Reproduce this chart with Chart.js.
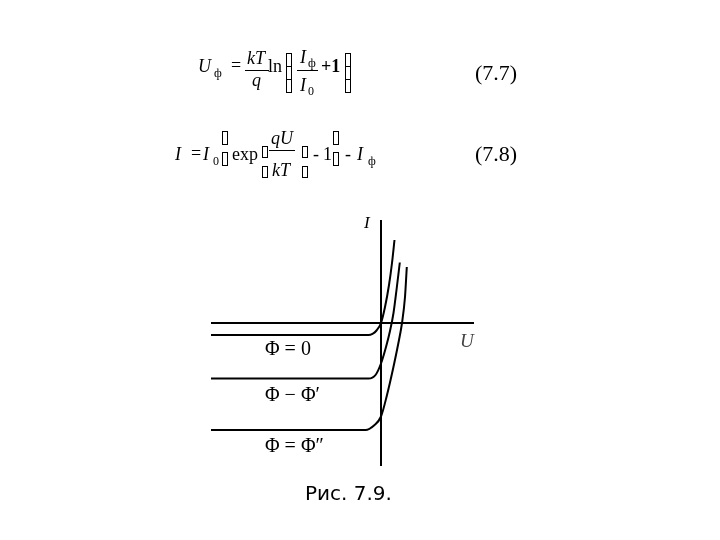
<!DOCTYPE html>
<html><head><meta charset="utf-8">
<script src="https://cdn.jsdelivr.net/npm/chart.js@4"></script>
<style>html,body{margin:0;padding:0;background:#fff}#wrap{width:720px;height:540px}</style>
</head><body><div id="wrap"><canvas id="c" width="720" height="540"></canvas></div>
<script>
// ---- data ----
const curveLabels = ['Φ = 0', 'Φ − Φ′', 'Φ = Φ″'];
const curve0U = [-170, -12.5, -8.5, -4.5, 0, 4, 8, 11, 13.5];
const curve0I = [-12, -12, -10.8, -7.5, 0, 16, 38, 60, 83];
const curve1U = [-170, -12.5, -5.5, 0, 5, 9, 12.5, 15.5, 18.8];
const curve1I = [-55.5, -55.5, -52, -40.5, -24, -8, 10, 33, 60.5];
const curve2U = [-170, -15.5, -7, 0, 6, 12, 17, 21, 24, 25.8];
const curve2I = [-107, -107, -102.5, -93.5, -72, -46, -22, 0, 26, 56];
const labelU = [-116, -116, -116];
const labelI = [-27, -73, -124];
const axisU = [-170, 93];
const axisI = [-143, 103];

const toPts = (u, i) => u.map((v, k) => ({x: v, y: i[k]}));
const curves = [toPts(curve0U, curve0I), toPts(curve1U, curve1I), toPts(curve2U, curve2I)];

const SERIF = '"Liberation Serif", "DejaVu Serif", serif';

const overlay = {
  id: 'overlay',
  afterDraw(chart) {
    const ctx = chart.ctx, xs = chart.scales.x, ys = chart.scales.y;
    ctx.save();
    ctx.fillStyle = '#000'; ctx.strokeStyle = '#000';
    // axes
    ctx.lineWidth = 2;
    ctx.beginPath();
    ctx.moveTo(xs.getPixelForValue(axisU[0]), ys.getPixelForValue(0));
    ctx.lineTo(xs.getPixelForValue(axisU[1]), ys.getPixelForValue(0));
    ctx.moveTo(xs.getPixelForValue(0), ys.getPixelForValue(axisI[0]));
    ctx.lineTo(xs.getPixelForValue(0), ys.getPixelForValue(axisI[1]));
    ctx.stroke();
    // axis labels
    ctx.textBaseline = 'alphabetic'; ctx.textAlign = 'left';
    ctx.font = 'italic 17px ' + SERIF;
    ctx.fillText('I', xs.getPixelForValue(0) - 17, ys.getPixelForValue(axisI[1]) + 8);
    ctx.fillStyle = '#444';
    ctx.font = 'italic 19px ' + SERIF;
    ctx.fillText('U', xs.getPixelForValue(axisU[1]) - 14, ys.getPixelForValue(0) + 24);
    ctx.fillStyle = '#000';
    // curve labels
    ctx.font = '20px ' + SERIF;
    ctx.textBaseline = 'middle';
    curveLabels.forEach((t, k) => ctx.fillText(t, xs.getPixelForValue(labelU[k]), ys.getPixelForValue(labelI[k])));
    ctx.textBaseline = 'alphabetic';

    const T = (s, x, y, f) => { ctx.font = f; ctx.fillText(s, x, y); };
    const it = 'italic 18px ' + SERIF, rm = '18px ' + SERIF, sub = '12px ' + SERIF;
    const box = (x, y, w, h) => { ctx.lineWidth = 1; ctx.strokeRect(x + 0.5, y + 0.5, w, h); };
    const hline = (x1, x2, y) => { ctx.lineWidth = 1; ctx.beginPath(); ctx.moveTo(x1, y + 0.5); ctx.lineTo(x2, y + 0.5); ctx.stroke(); };
    // formula (7.7)
    T('U', 198, 72, it); T('ф', 214, 77, sub); T('=', 231, 71, rm);
    T('kT', 247, 64, it); hline(245, 269, 70); T('q', 252, 86, it);
    T('ln', 268, 72, rm);
    box(286, 53, 5, 13); box(286, 66, 5, 13); box(286, 79, 5, 13);
    T('I', 300, 63, it); T('ф', 308, 67, sub); hline(297, 318, 70); T('I', 300, 91, it); T('0', 308, 95, sub);
    T('+1', 321, 72, 'bold 18px ' + SERIF);
    box(345, 53, 5, 13); box(345, 66, 5, 13); box(345, 79, 5, 13);
    T('(7.7)', 475, 80, '22px ' + SERIF);
    // formula (7.8)
    T('I', 175, 160, it); T('=', 191, 159, rm); T('I', 203, 160, it); T('0', 213, 165, sub);
    box(222, 131, 5, 13); box(222, 152, 5, 13);
    T('exp', 232, 160, rm);
    box(262, 146, 5, 11); box(262, 166, 5, 11);
    T('qU', 271, 144, it); hline(269, 295, 150); T('kT', 272, 176, it);
    box(302, 146, 5, 11); box(302, 166, 5, 11);
    T('-', 313, 160, rm); T('1', 323, 160, rm);
    box(333, 131, 5, 13); box(333, 152, 5, 13);
    T('-', 345, 160, rm); T('I', 357, 160, it); T('ф', 368, 165, sub);
    T('(7.8)', 475, 161, '22px ' + SERIF);
    // caption
    ctx.font = '20px "DejaVu Sans", sans-serif';
    ctx.fillText('Рис. 7.9.', 305, 500);
    ctx.restore();
  }
};

new Chart(document.getElementById('c'), {
  type: 'scatter',
  data: {
    datasets: curves.map((pts, k) => ({
      label: curveLabels[k],
      data: pts,
      showLine: true,
      borderColor: '#000',
      borderWidth: 2,
      pointRadius: 0,
      cubicInterpolationMode: 'monotone',
      fill: false
    }))
  },
  options: {
    responsive: false,
    animation: false,
    layout: {padding: {left: 211, right: 246, top: 220, bottom: 74}},
    plugins: {legend: {display: false}, tooltip: {enabled: false}},
    scales: {
      x: {type: 'linear', display: false, min: axisU[0], max: axisU[1]},
      y: {type: 'linear', display: false, min: axisI[0], max: axisI[1]}
    }
  },
  plugins: [overlay]
});
</script></body></html>
